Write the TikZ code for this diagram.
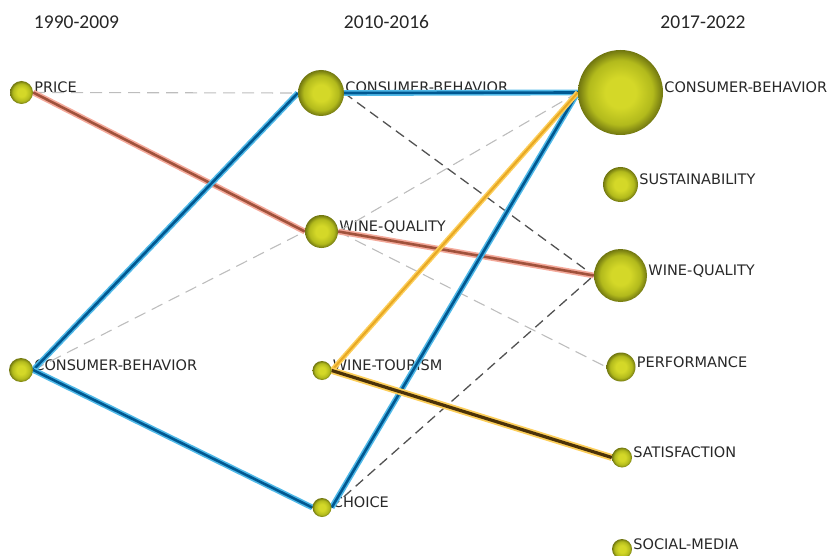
\documentclass[tikz,border=0pt]{standalone}
\usepackage{fontspec}
\setmainfont{DejaVu Sans}
\newfontfamily\headfont{Carlito}
\begin{document}
\definecolor{ballC}{RGB}{212,216,40}
\definecolor{ballM}{RGB}{178,186,28}
\definecolor{ballE}{RGB}{112,118,16}
\definecolor{blueOut}{RGB}{80,185,232}
\definecolor{blueIn}{RGB}{0,88,145}
\definecolor{brownOut}{RGB}{244,170,155}
\definecolor{brownIn}{RGB}{160,82,60}
\definecolor{amberOut}{RGB}{252,206,90}
\definecolor{amberIn}{RGB}{232,168,35}
\definecolor{amberDark}{RGB}{75,50,8}
\definecolor{txt}{RGB}{40,40,40}
\pgfdeclareradialshading{nodeball}{\pgfpoint{0bp}{0bp}}{%
  color(0bp)=(ballC); color(9bp)=(ballC); color(19bp)=(ballM);
  color(25bp)=(ballE); color(50bp)=(ballE)}
\pgfdeclarelayer{labels}
\pgfdeclarelayer{edges}
\pgfsetlayers{labels,edges,main}
\begin{tikzpicture}[x=1pt,y=-1pt,
  kw/.style={circle,inner sep=0pt,minimum size=#1,shading=nodeball},
  kwlabel/.style={anchor=base west,inner sep=0pt,text=txt,font=\fontsize{14.5}{16}\selectfont},
  period/.style={anchor=base,inner sep=0pt,text=black!85,font=\headfont\fontsize{19.5}{22}\selectfont},
  bluelink/.style={draw=blueOut,line width=1.6pt,double=blueIn,double distance=2.6pt},
  brownlink/.style={draw=brownOut,line width=1.6pt,double=brownIn,double distance=2.6pt},
  amberlink/.style={draw=amberOut,line width=1.5pt,double=amberIn,double distance=2pt},
  darkamberlink/.style={draw=amberOut,line width=1.8pt,double=amberDark,double distance=3.2pt},
  lightdash/.style={draw=black!26,line width=1.1pt,dash pattern=on 12pt off 7pt},
  darkdash/.style={draw=black!68,line width=1.3pt,dash pattern=on 10pt off 6pt}]
\useasboundingbox (0,0) rectangle (832,556);

% period headings
\node[period] (h1) at (76.5,29) {1990-2009};
\node[period] (h2) at (386.5,29) {2010-2016};
\node[period] (h3) at (703,29) {2017-2022};

% keyword spheres
\node[kw=23pt] (a1) at (21.5,92.5) {};
\node[kw=24pt] (a2) at (21,370) {};
\node[kw=46pt] (b1) at (321,93) {};
\node[kw=33pt] (b2) at (321.5,231.5) {};
\node[kw=19pt] (b3) at (322,370.5) {};
\node[kw=19pt] (b4) at (322,507.5) {};
\node[kw=85pt] (c1) at (620.5,92.5) {};
\node[kw=35pt] (c2) at (620.5,184.5) {};
\node[kw=53pt] (c3) at (620.5,275.5) {};
\node[kw=29pt] (c4) at (621,367) {};
\node[kw=20pt] (c5) at (622,457.5) {};
\node[kw=20pt] (c6) at (622,549) {};

% keyword labels
\begin{pgfonlayer}{labels}
\node[kwlabel] (a1t) at ([xshift=1pt]a1.east) {PRICE};
\node[kwlabel] (a2t) at ([xshift=1pt]a2.east) {CONSUMER-BEHAVIOR};
\node[kwlabel] (b1t) at ([xshift=1pt]b1.east) {CONSUMER-BEHAVIOR};
\node[kwlabel] (b2t) at ([xshift=1pt]b2.east) {WINE-QUALITY};
\node[kwlabel] (b3t) at ([xshift=1pt]b3.east) {WINE-TOURISM};
\node[kwlabel] (b4t) at ([xshift=1pt]b4.east) {CHOICE};
\node[kwlabel] (c1t) at ([xshift=1pt]c1.east) {CONSUMER-BEHAVIOR};
\node[kwlabel] (c2t) at ([xshift=1pt]c2.east) {SUSTAINABILITY};
\node[kwlabel] (c3t) at ([xshift=1pt]c3.east) {WINE-QUALITY};
\node[kwlabel] (c4t) at ([xshift=1pt]c4.east) {PERFORMANCE};
\node[kwlabel] (c5t) at ([xshift=1pt]c5.east) {SATISFACTION};
\node[kwlabel] (c6t) at ([xshift=1pt]c6.east) {SOCIAL-MEDIA};
\end{pgfonlayer}

% evolution links
\begin{pgfonlayer}{edges}
\draw[lightdash] (a1.east) -- (b1.west);
\draw[lightdash] (a2.east) -- (b2.west);
\draw[lightdash] (b2.east) -- (c1.west);
\draw[lightdash] (b2.east) -- (c4.west);
\draw[darkdash] (b1.east) -- (c3.west);
\draw[darkdash] (b4.east) -- (c3.west);
\draw[brownlink] (a1.east) -- (b2.west);
\draw[brownlink] (b2.east) -- (c3.west);
\draw[bluelink] (a2.east) -- (b1.west);
\draw[bluelink] (a2.east) -- (b4.west);
\draw[bluelink] (b1.east) -- (c1.west);
\draw[bluelink] (b4.east) -- (c1.west);
\draw[amberlink] (b3.east) -- (c1.west);
\draw[darkamberlink] (b3.east) -- (c5.west);
\end{pgfonlayer}
\end{tikzpicture}
\end{document}
